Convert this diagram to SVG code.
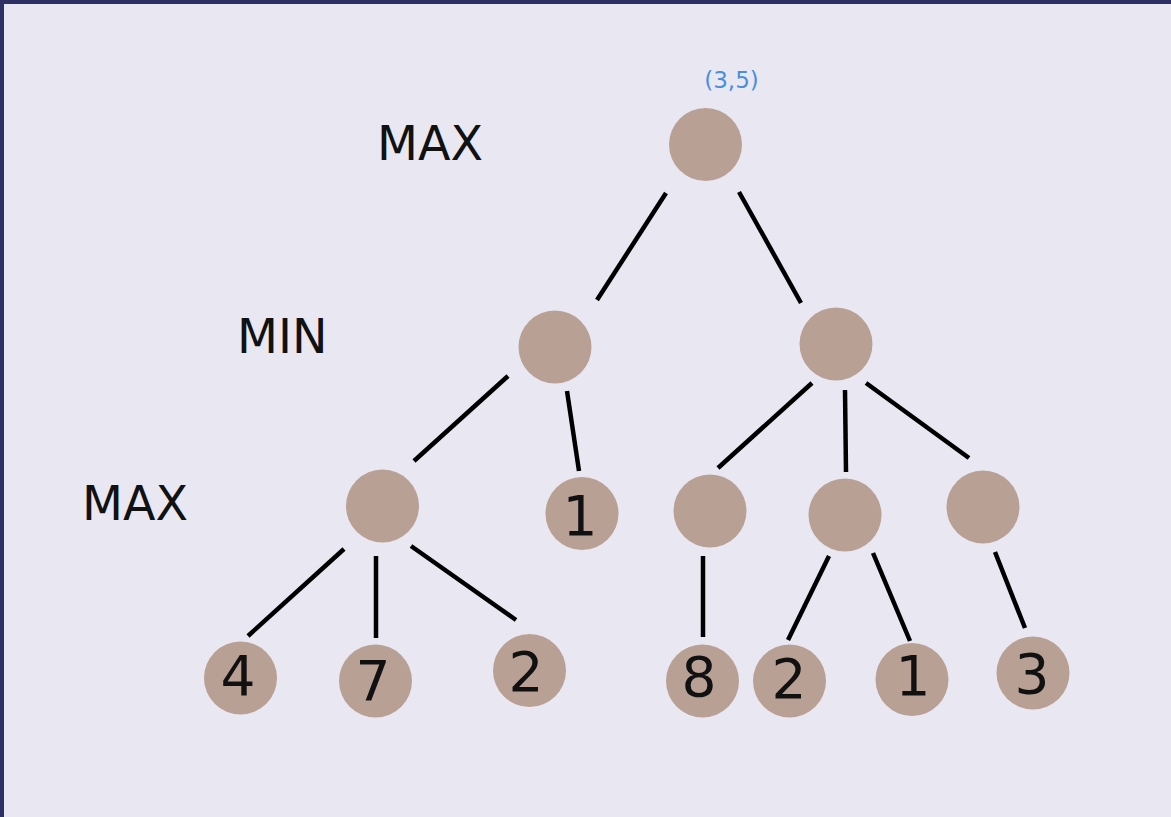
<svg xmlns="http://www.w3.org/2000/svg" width="1171" height="817" viewBox="0 0 1171 817">
  <style>
    .node { fill: #b9a094; }
    .edge { stroke: #000; stroke-width: 4.5; stroke-linecap: butt; fill: none; }
    .level { font-family: "DejaVu Sans", sans-serif; font-size: 47.5px; fill: #111; }
    .val { font-family: "DejaVu Sans", sans-serif; font-size: 55px; fill: #111; text-anchor: middle; }
    .note { font-family: "DejaVu Sans", sans-serif; font-size: 23px; fill: #4a8fdb; text-anchor: middle; }
  </style>

  <!-- frame -->
  <rect x="0" y="0" width="1171" height="817" fill="#e9e8f2"/>
  <rect x="0" y="0" width="1171" height="4" fill="#2e2f62"/>
  <rect x="0" y="0" width="4" height="817" fill="#2e2f62"/>

  <!-- level labels -->
  <text class="level" x="377" y="160">MAX</text>
  <text class="level" x="237" y="353">MIN</text>
  <text class="level" x="82" y="520">MAX</text>

  <!-- edges -->
  <g id="edges">
    <line class="edge" x1="666" y1="193" x2="597" y2="300"/>
    <line class="edge" x1="739" y1="192" x2="801" y2="303"/>
    <line class="edge" x1="508" y1="376" x2="414" y2="461"/>
    <line class="edge" x1="567" y1="391" x2="579" y2="471"/>
    <line class="edge" x1="812" y1="383" x2="718" y2="468"/>
    <line class="edge" x1="845" y1="390" x2="846" y2="472"/>
    <line class="edge" x1="866" y1="383" x2="969" y2="458"/>
    <line class="edge" x1="344" y1="549" x2="248" y2="636"/>
    <line class="edge" x1="376" y1="556" x2="376" y2="638"/>
    <line class="edge" x1="411" y1="546" x2="516" y2="620"/>
    <line class="edge" x1="703" y1="556" x2="703" y2="637"/>
    <line class="edge" x1="829" y1="556" x2="788" y2="640"/>
    <line class="edge" x1="873" y1="553" x2="910" y2="641"/>
    <line class="edge" x1="995" y1="552" x2="1025" y2="628"/>
  </g>

  <!-- root -->
  <g id="root">
    <text class="note" x="731.5" y="88">(3,5)</text>
    <circle class="node" cx="705.5" cy="144.5" r="36.5"/>
  </g>

  <!-- MIN level -->
  <g id="min-left"><circle class="node" cx="555" cy="347" r="36.5"/></g>
  <g id="min-right"><circle class="node" cx="836" cy="344" r="36.5"/></g>

  <!-- MAX level -->
  <g id="max-a"><circle class="node" cx="382.5" cy="506" r="36.5"/></g>
  <g id="leaf-1a">
    <circle class="node" cx="582" cy="513.5" r="36.5"/>
    <text class="val" x="580" y="535">1</text>
  </g>
  <g id="max-b"><circle class="node" cx="710" cy="511" r="36.5"/></g>
  <g id="max-c"><circle class="node" cx="845" cy="515" r="36.5"/></g>
  <g id="max-d"><circle class="node" cx="983" cy="507" r="36.5"/></g>

  <!-- leaves -->
  <g id="leaf-4">
    <circle class="node" cx="240.5" cy="678" r="36.5"/>
    <text class="val" x="238" y="695">4</text>
  </g>
  <g id="leaf-7">
    <circle class="node" cx="375.5" cy="681" r="36.5"/>
    <text class="val" x="373" y="700">7</text>
  </g>
  <g id="leaf-2a">
    <circle class="node" cx="529.5" cy="670.5" r="36.5"/>
    <text class="val" x="526" y="691">2</text>
  </g>
  <g id="leaf-8">
    <circle class="node" cx="702.5" cy="681" r="36.5"/>
    <text class="val" x="699" y="696">8</text>
  </g>
  <g id="leaf-2b">
    <circle class="node" cx="789.5" cy="681" r="36.5"/>
    <text class="val" x="789" y="698">2</text>
  </g>
  <g id="leaf-1b">
    <circle class="node" cx="912" cy="679.5" r="36.5"/>
    <text class="val" x="913" y="695">1</text>
  </g>
  <g id="leaf-3">
    <circle class="node" cx="1033" cy="673" r="36.5"/>
    <text class="val" x="1032" y="693">3</text>
  </g>
</svg>
